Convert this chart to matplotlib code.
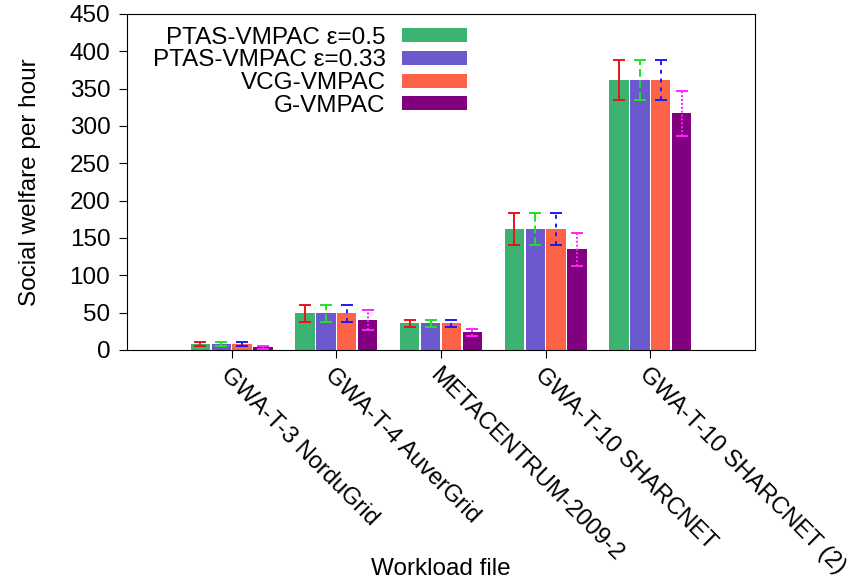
import numpy as np
import matplotlib
matplotlib.use("Agg")
from matplotlib import pyplot as plt

plt.rcParams['font.family'] = ['Liberation Sans', 'DejaVu Sans']

# data
workloads = ["GWA-T-3 NorduGrid", "GWA-T-4 AuverGrid", "METACENTRUM-2009-2",
             "GWA-T-10 SHARCNET", "GWA-T-10 SHARCNET (2)"]
series = ["PTAS-VMPAC \u03b5=0.5", "PTAS-VMPAC \u03b5=0.33", "VCG-VMPAC", "G-VMPAC"]
ptas05 = [8, 49, 35.5, 162, 362]
ptas033 = [8, 49, 35.5, 162, 362]
vcg = [8, 49, 35.5, 162, 362]
greedy = [3.5, 40, 23.5, 135, 317]
ptas05_err = [3.3, 11.5, 4.5, 21.5, 27]
ptas033_err = [3.3, 11.5, 4.5, 21.5, 27]
vcg_err = [3.3, 11.5, 4.5, 21.5, 27]
greedy_err = [1.5, 13, 4.5, 22, 30]

values = [ptas05, ptas033, vcg, greedy]
errors = [ptas05_err, ptas033_err, vcg_err, greedy_err]
bar_colors = ["#3cb371", "#6a5acd", "#ff6347", "#800080"]
err_colors = ["#e8141c", "#22e022", "#1a1aff", "#ff22ff"]
err_styles = ["-", (0, (4, 2)), (0, (2, 2.5)), (0, (1, 1))]
fs = 17.5

fig = plt.figure(figsize=(8.59, 5.86), dpi=100)
ax = fig.add_axes([127 / 859, 1 - 350 / 586, 628 / 859, 336 / 586])

x = np.arange(len(workloads))
slot = 0.2
width = 0.185
for i in range(4):
    pos = x + (i - 1.5) * slot
    ax.bar(pos, values[i], width, color=bar_colors[i], label=series[i], zorder=2)
    eb = ax.errorbar(pos, values[i], yerr=errors[i], fmt='none', ecolor=err_colors[i],
                     elinewidth=1.4, capsize=4, capthick=1.4, zorder=3)
    eb[2][0].set_linestyle(err_styles[i])

ax.set_xlim(-1, 5)
ax.set_ylim(0, 450)
ax.set_yticks(np.arange(0, 451, 50))
ax.set_xticks(x)
ax.set_xticklabels(workloads, rotation=-45, ha='left', va='top',
                   rotation_mode='anchor', fontsize=17)
ax.tick_params(axis='y', labelsize=fs, direction='out', length=6, pad=6)
ax.tick_params(axis='x', direction='out', length=6, pad=4)
ax.set_ylabel("Social welfare per hour", fontsize=fs, va='center', ha='center')
ax.yaxis.set_label_coords(-0.155, 0.5)
ax.set_xlabel("Workload file", fontsize=fs, va='center', ha='center')
ax.xaxis.set_label_coords(0.5, -0.652)

leg = ax.legend(loc='upper left', bbox_to_anchor=(0.041, 0.962), frameon=False,
                fontsize=fs, markerfirst=False, handlelength=2.67, handleheight=0.5,
                labelspacing=0.03, handletextpad=0.66, alignment='right',
                borderpad=0, borderaxespad=0)
for t in leg.get_texts():
    t.set_ha('right')

fig.savefig("out.png", dpi=100)
